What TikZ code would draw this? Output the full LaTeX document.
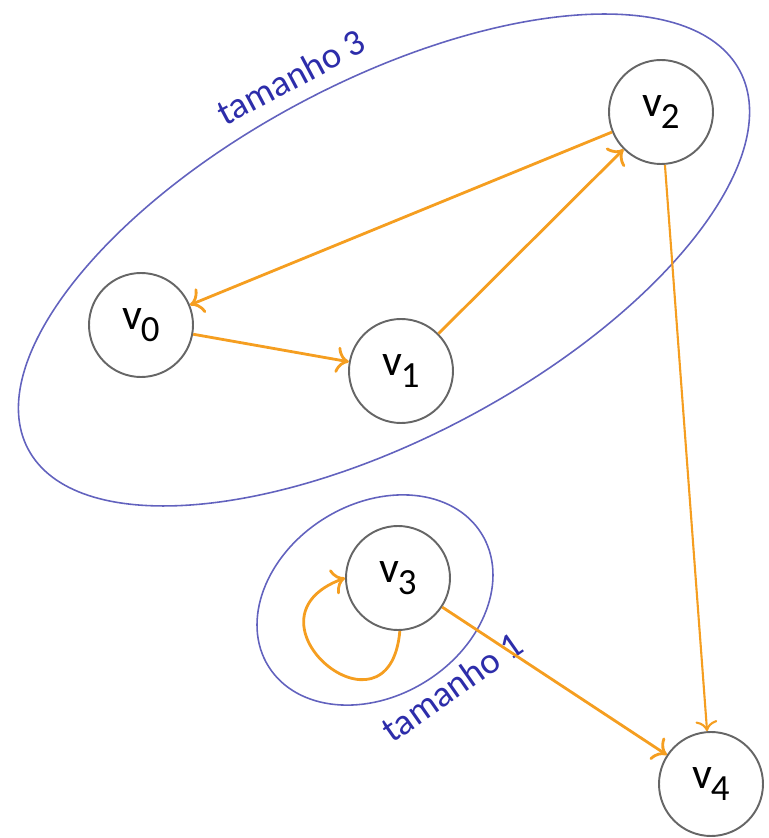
\documentclass[tikz,border=0pt]{standalone}
\usepackage{fontspec}
\setmainfont{Carlito}
\usetikzlibrary{arrows.meta}

\definecolor{hullblue}{RGB}{98,98,190}
\definecolor{labelblue}{RGB}{45,45,170}
\definecolor{arcorange}{RGB}{245,158,32}
\newcommand{\vx}[1]{v\kern-0.03em\raisebox{-0.28em}{\fontsize{21}{24}\selectfont #1}}

\begin{document}
\begin{tikzpicture}[every node/.style={circle, draw=black!60, line width=1.1pt, minimum size=2.08cm, inner sep=0pt, font=\fontsize{25}{30}\selectfont},
    edge/.style={draw=arcorange, line width=1.6pt, -{To[scale=1.4]}},
    hull/.style={draw=hullblue, line width=0.9pt},
    sizelabel/.style={draw=none, minimum size=0pt, text=labelblue, font=\fontsize{21}{25}\selectfont}]
    \useasboundingbox (0,0) rectangle (15.38,16.76);
    \node (v0) at (2.82,10.26) {\vx{0}};
    \node (v1) at (8.02,9.34) {\vx{1}};
    \node (v2) at (13.22,14.52) {\vx{2}};
    \node (v3) at (7.96,5.20) {\vx{3}};
    \node (v4) at (14.22,1.08) {\vx{4}};
    \draw[hull, rotate around={28:(7.68,11.56)}] (7.68,11.56) ellipse [x radius=8.06, y radius=3.56];
    \draw[hull, rotate around={32:(7.50,4.76)}] (7.50,4.76) ellipse [x radius=2.51, y radius=1.92];
    \node[sizelabel, rotate=28] (t3) at (5.82,15.22) {tamanho 3};
    \node[sizelabel, rotate=35] (t1) at (9.04,3.02) {tamanho 1};
    \draw[edge] (v2) -- (v0);
    \draw[edge] (v0) -- (v1);
    \draw[edge] (v1) -- (v2);
    \draw[edge, line width=1.2pt] (v2) -- (v4);
    \draw[edge] (v3) -- (v4);
    \draw[edge] (v3.-88) to[out=-95, in=200, looseness=4] (v3.west);
\end{tikzpicture}
\end{document}
